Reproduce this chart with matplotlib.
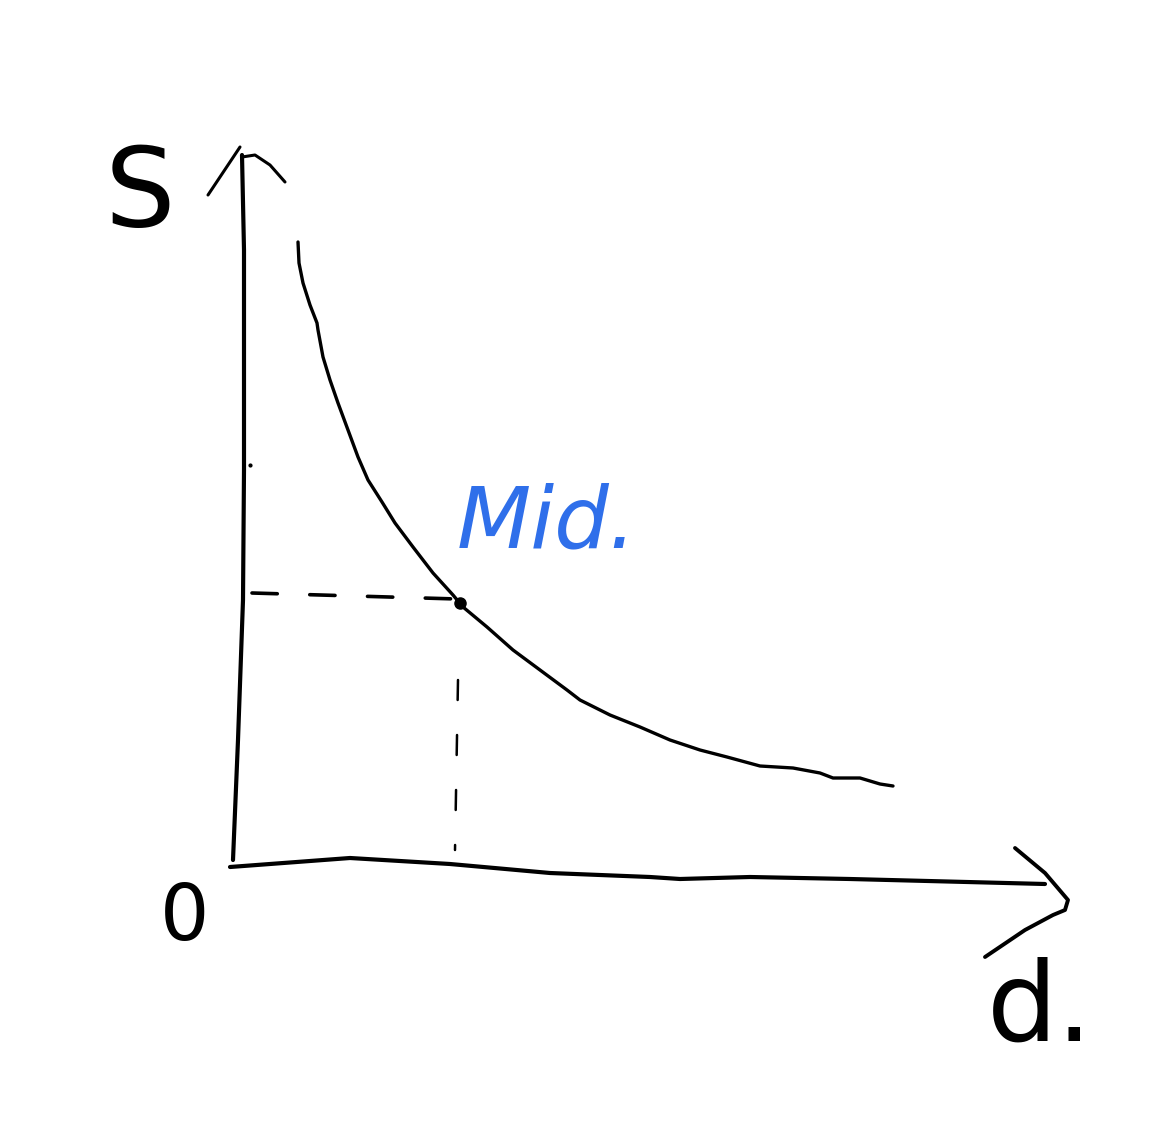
import matplotlib
matplotlib.use("Agg")
import matplotlib.pyplot as plt

# ---- data (sketch units: d along x, S along y) ----
curve_d = [0.63, 0.64, 0.68, 0.75, 0.82, 0.83, 0.88, 0.95, 1.03, 1.13, 1.23, 1.33, 1.47,
           1.60, 1.78, 1.98, 2.18, 2.28, 2.52, 2.78, 3.05, 3.32, 3.45, 3.75, 4.05, 4.35,
           4.65, 4.92, 5.25, 5.58, 5.85, 5.98, 6.25, 6.45, 6.58]
curve_s = [6.23, 6.02, 5.82, 5.60, 5.42, 5.35, 5.08, 4.85, 4.62, 4.35, 4.08, 3.85, 3.63,
           3.42, 3.18, 2.92, 2.70, 2.58, 2.38, 2.15, 1.95, 1.75, 1.65, 1.50, 1.38, 1.25,
           1.15, 1.08, 0.99, 0.97, 0.92, 0.87, 0.87, 0.81, 0.79]
mid_d, mid_s = 2.25, 2.62

yaxis_d = [-0.02, 0.03, 0.08, 0.09, 0.09, 0.07]
yaxis_s = [0.05, 1.25, 2.65, 3.95, 6.15, 7.10]
xaxis_d = [-0.05, 1.15, 2.15, 3.15, 4.15, 4.45, 5.15, 6.15, 8.10]
xaxis_s = [-0.02, 0.07, 0.01, -0.08, -0.12, -0.14, -0.12, -0.14, -0.19]

yarrow_left_d = [-0.27, 0.05]
yarrow_left_s = [6.70, 7.18]
yarrow_right_d = [0.07, 0.20, 0.35, 0.50]
yarrow_right_s = [7.08, 7.10, 7.00, 6.83]
xarrow_d = [7.80, 8.10, 8.33, 8.30, 8.18, 7.90, 7.50]
xarrow_s = [0.17, -0.08, -0.35, -0.45, -0.50, -0.65, -0.92]

labels = {"S": (-0.95, 6.70), "0": (-0.50, -0.53), "d.": (8.05, -1.45)}
mid_label = "Mid."
mid_pos = (2.22, 3.18)

# ---- figure ----
fig = plt.figure(figsize=(11.68, 11.3), dpi=100)
ax = fig.add_axes([0, 0, 1, 1])
ax.set_xlim(-2.35, 9.33)
ax.set_ylim(-2.65, 8.65)
ax.axis("off")

lw_axis = 3.0
ax.plot(yaxis_d, yaxis_s, color="black", lw=lw_axis, solid_capstyle="round",
        solid_joinstyle="round")
ax.plot(xaxis_d, xaxis_s, color="black", lw=lw_axis, solid_capstyle="round",
        solid_joinstyle="round")
ax.plot(yarrow_left_d, yarrow_left_s, color="black", lw=2.2, solid_capstyle="round")
ax.plot(yarrow_right_d, yarrow_right_s, color="black", lw=2.2, solid_capstyle="round",
        solid_joinstyle="round")
ax.plot(xarrow_d, xarrow_s, color="black", lw=2.8, solid_capstyle="round",
        solid_joinstyle="round")
ax.plot([0.15], [4.00], marker="o", ms=2, color="black")

ax.plot(curve_d, curve_s, color="black", lw=2.4, solid_capstyle="round",
        solid_joinstyle="round")

# dashed guides
ax.plot([0.17, mid_d - 0.03], [2.72, 2.66], color="black", lw=2.6,
        dashes=(7, 9), dash_capstyle="round")
ax.plot([mid_d - 0.02, mid_d - 0.05], [1.85, 0.15], color="black", lw=1.8,
        dashes=(8, 14), dash_capstyle="round")
ax.plot([mid_d], [mid_s], marker="o", ms=8, color="black")

for txt, (x, y) in labels.items():
    ax.text(x, y, txt, fontsize=80 if txt != "0" else 56, ha="center", va="center",
            family="DejaVu Sans", color="black")

ax.text(mid_pos[0], mid_pos[1], mid_label, fontsize=62, ha="left", va="baseline",
        style="italic", color="#2f6fea", family="DejaVu Sans")

fig.savefig("out.png", dpi=100)
